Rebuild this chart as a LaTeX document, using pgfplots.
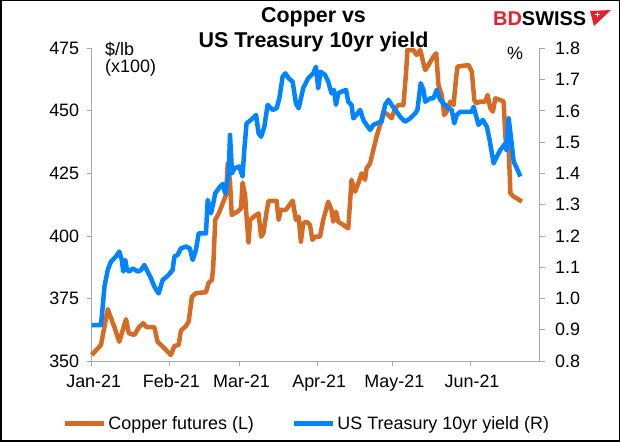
\documentclass[border=0pt]{standalone}
\usepackage{pgfplots}
\usepackage{pgfplotstable}
\pgfplotsset{compat=1.18}
\usepackage{fontspec}
\setmainfont{Liberation Sans}

\definecolor{copper}{RGB}{212,108,38}
\definecolor{ust}{RGB}{0,132,255}
\definecolor{axisgray}{RGB}{166,166,166}
\definecolor{bdred}{RGB}{232,32,42}

% day 0 = 1 Jan 2021
\pgfplotstableread{
day val
0 352.4
3.7 356.4
6.4 370.7
9.0 363.7
11.0 357.7
13.7 366.7
14.8 361.1
17.0 360.4
19.0 363.7
20.6 365.1
21.9 363.5
25.0 363.5
26.3 357.7
29.0 355.1
31.6 352.4
33.0 356.0
34.7 356.4
35.6 362.1
37.6 364.0
38.7 365.7
40.0 375.7
41.6 377.1
45.6 377.5
46.7 381.3
48.0 382.4
48.5 387.7
49.3 406.4
50.7 409.0
52.3 413.0
53.6 416.4
54.3 429.0
55.2 421.7
55.9 408.4
58.2 409.7
59.6 411.0
60.2 421.3
61.2 416.4
61.8 407.7
62.6 397.4
63.2 406.4
65.3 408.1
66.6 409.0
67.6 399.7
68.5 401.0
69.8 409.7
70.6 414.0
73.8 414.0
74.6 406.4
75.5 410.4
77.5 410.4
80.2 414.1
81.5 406.4
82.6 407.7
83.5 397.7
84.4 405.0
85.7 405.7
87.1 404.4
88.1 398.4
89.1 399.7
91.1 399.7
92.4 406.4
94.4 413.7
95.7 410.4
96.4 405.7
97.5 409.7
98.4 405.7
100.4 404.4
102.4 403.0
103.7 422.4
105.1 417.7
106.4 421.0
107.7 425.0
109.1 422.4
109.7 427.0
111.1 429.0
112.4 434.4
113.7 439.7
115.1 444.4
116.4 449.7
118.4 448.3
119.7 447.0
121.1 451.0
122.4 452.3
124.4 452.3
125.5 465.7
126.0 474.3
128.4 474.3
129.7 472.3
131.1 474.3
133.1 466.3
134.4 468.3
136.4 471.7
137.5 473.0
138.4 460.3
139.7 456.3
140.7 448.3
141.7 449.7
143.1 453.7
144.4 452.3
145.5 463.7
146.0 467.7
150.4 468.3
151.7 465.7
152.7 454.3
153.5 453.0
155.1 453.7
157.1 453.7
158.0 456.3
159.1 451.0
160.1 449.7
161.1 455.0
163.1 454.3
164.4 453.7
165.1 439.7
165.7 434.4
166.4 435.7
167.1 417.0
168.4 415.7
169.7 415.0
171.7 413.7
}\coppertab

\pgfplotstableread{
day val
0 0.915
3.7 0.915
4.4 0.974
5.1 1.038
6.4 1.091
7.7 1.118
9.7 1.134
11.0 1.150
12.0 1.123
12.6 1.086
13.4 1.123
14.1 1.091
15.0 1.086
16.4 1.096
18.4 1.086
19.7 1.091
21.0 1.107
22.3 1.086
23.7 1.064
25.0 1.038
26.7 1.016
28.3 1.059
30.3 1.072
32.3 1.091
33.0 1.134
34.3 1.139
35.6 1.160
37.6 1.166
39.2 1.160
40.3 1.123
41.6 1.155
42.7 1.208
45.6 1.208
46.3 1.315
47.6 1.272
48.5 1.304
49.3 1.336
50.7 1.352
52.3 1.366
53.3 1.336
54.7 1.400
55.2 1.523
56.0 1.400
56.9 1.416
58.9 1.422
60.2 1.390
60.9 1.475
61.8 1.560
63.6 1.571
65.6 1.587
66.6 1.528
67.6 1.517
68.9 1.549
70.2 1.619
72.2 1.603
73.8 1.608
74.9 1.640
76.2 1.709
77.3 1.720
78.6 1.704
80.2 1.693
81.5 1.624
82.6 1.608
84.4 1.672
86.4 1.704
88.4 1.720
89.5 1.741
90.4 1.672
91.3 1.725
93.1 1.715
94.4 1.693
95.7 1.656
96.7 1.667
97.5 1.619
98.4 1.656
99.7 1.661
101.5 1.667
102.4 1.629
103.7 1.619
104.4 1.576
105.7 1.587
107.1 1.603
108.4 1.571
109.7 1.555
111.1 1.539
112.4 1.555
114.4 1.562
115.7 1.565
117.1 1.619
118.4 1.635
119.7 1.619
121.7 1.597
123.1 1.581
125.1 1.565
127.1 1.576
129.1 1.592
130.0 1.603
131.3 1.688
132.4 1.667
133.1 1.629
135.1 1.640
136.4 1.640
137.7 1.667
139.1 1.635
140.4 1.624
142.4 1.608
143.7 1.603
144.7 1.560
145.7 1.587
147.1 1.597
151.7 1.597
152.4 1.613
153.5 1.581
154.4 1.555
156.1 1.571
157.7 1.549
158.8 1.507
160.4 1.432
161.7 1.454
163.1 1.475
165.1 1.496
165.5 1.475
166.4 1.576
167.3 1.517
168.4 1.438
169.7 1.416
171.1 1.390
}\yieldtab

\pgfplotsset{
  chartbase/.style={
    at={(91.7bp,81bp)}, anchor=south west,
    scale only axis, width=448bp, height=312.7bp,
    xmin=0, xmax=178.8,
    clip=false,
    tick align=outside,
    major tick length=5bp,
    tick style={axisgray, line width=0.75bp},
    axis line style={axisgray, line width=0.75bp},
    ticklabel style={font=\fontsize{18}{20}\selectfont, text=black},
    /pgf/number format/assume math mode=true,
  },
}

\begin{document}
\begin{tikzpicture}[x=1bp,y=1bp]
\useasboundingbox (0,0) rectangle (620,442);
\draw[line width=1.5bp] (0.75,0.75) rectangle (619.25,441.25);

\begin{axis}[
  chartbase,
  ymin=350, ymax=475,
  ytick={350,375,400,425,450,475},
  yticklabel style={xshift=-4bp},
  axis y line*=left, axis x line*=bottom,
  xtick={0,31,59,90,120,151},
  xticklabels={Jan-21,Feb-21,Mar-21,Apr-21,May-21,Jun-21},
  xticklabel style={yshift=-5bp, xshift=2bp},
  legend style={at={(0.4806,-0.2)}, anchor=center, draw=none, fill=none,
    font=\fontsize{18}{20}\selectfont, legend columns=2,
    /tikz/every even column/.append style={column sep=36bp}},
  legend image code/.code={\draw[#1, line width=4.5bp] (0bp,0bp) -- (39bp,0bp);},
]
\addplot[copper, line width=4.5bp, line join=round] table[x=day, y=val] {\coppertab};
\addlegendentry{Copper futures (L)}
\addlegendimage{ust, line width=4.5bp}
\addlegendentry{US Treasury 10yr yield (R)}
\end{axis}

\begin{axis}[
  chartbase,
  ymin=0.8, ymax=1.8,
  ytick={0.8,0.9,1.0,1.1,1.2,1.3,1.4,1.5,1.6,1.7,1.8},
  yticklabel style={xshift=7bp, /pgf/number format/.cd, fixed, fixed zerofill, precision=1},
  axis y line*=right, axis x line=none,
]
\addplot[ust, line width=4.5bp, line join=round] table[x=day, y=val] {\yieldtab};
\end{axis}

% titles and unit labels
\node[anchor=base, font=\bfseries\fontsize{21.5}{24}\selectfont] at (313.5,419) {Copper vs};
\node[anchor=base, font=\bfseries\fontsize{21.5}{24}\selectfont] at (313.5,394.3) {US Treasury 10yr yield};
\node[anchor=base west, inner sep=0, font=\fontsize{18}{20}\selectfont] at (105,386.5) {\$/lb};
\node[anchor=base west, inner sep=0, font=\fontsize{18}{20}\selectfont] at (105,369) {(x100)};
\node[anchor=base west, inner sep=0, font=\fontsize{18}{20}\selectfont] at (507,382) {\%};

% logo
\node[anchor=base west, inner sep=0, font=\bfseries\fontsize{20}{22}\selectfont] at (493,416)
  {\textcolor{bdred}{BD}SWISS};
\fill[bdred] (590,431) -- (611,432) -- (594,416) -- cycle;
\draw[white, line width=1bp] (597.5,424.5) -- (597.5,429.5) (595,427) -- (600,427);
\end{tikzpicture}
\end{document}
